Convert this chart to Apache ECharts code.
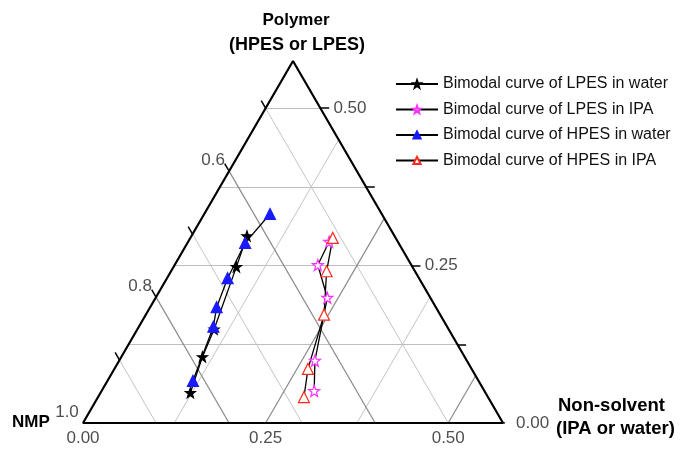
<!DOCTYPE html>
<html>
<head>
<meta charset="utf-8">
<script src="https://cdn.jsdelivr.net/npm/echarts@6/dist/echarts.min.js"></script>
<style>
	html, body { margin: 0; padding: 0; background: #fff; }
	#chart { width: 681px; height: 449px; }
</style>
</head>
<body>
<div id="chart"></div>
<script>
// ternary data: non-solvent and polymer fractions, NMP = 1 - both
var lpesWaterNonSolvent = [0.123, 0.111, 0.105, 0.086, 0.076];
var lpesWaterPolymer = [0.048, 0.105, 0.149, 0.248, 0.297];
var lpesIpaNonSolvent = [0.193, 0.196, 0.235, 0.268, 0.291];
var lpesIpaPolymer = [0.288, 0.251, 0.199, 0.099, 0.051];
var hpesWaterNonSolvent = [0.090, 0.079, 0.083, 0.091, 0.102, 0.117];
var hpesWaterPolymer = [0.332, 0.286, 0.230, 0.184, 0.153, 0.067];
var hpesIpaNonSolvent = [0.195, 0.213, 0.244, 0.265, 0.282];
var hpesIpaPolymer = [0.294, 0.241, 0.172, 0.086, 0.041];

var seriesNames = ['Bimodal curve of LPES in water', 'Bimodal curve of LPES in IPA',
	'Bimodal curve of HPES in water', 'Bimodal curve of HPES in IPA'];

// axis ticks
var bottomTicks = [0, 0.125, 0.25, 0.375, 0.5];
var bottomLabelTicks = [0, 0.25, 0.5];
var bottomLabels = ['0.00', '0.25', '0.50'];
var rightTicks = [0, 0.125, 0.25, 0.375, 0.5];
var rightLabelTicks = [0, 0.25, 0.5];
var rightLabels = ['0.00', '0.25', '0.50'];
var leftTicks = [0.5, 0.6, 0.7, 0.8, 0.9];
var leftLabelTicks = [1.0, 0.8, 0.6];
var leftLabels = ['1.0', '0.8', '0.6'];

var polymerGrid = [0.125, 0.25, 0.375, 0.5];
var nonSolventGrid = [0.125, 0.25, 0.375, 0.5];
var nmpGrid = [0.5, 0.6, 0.7, 0.8, 0.9];
var nonSolventMajor = [0.25, 0.5];
var nmpMajor = [0.6, 0.8];

var R = 0.575;   // range shown on each side of the zoomed triangle
var H = Math.sqrt(3) / 2;
var TICK = 0.012;
var STAR = 'path://M0,-10L2.35,-3.24L9.51,-3.09L3.8,1.24L5.88,8.09L0,4L-5.88,8.09L-3.8,1.24L-9.51,-3.09L-2.35,-3.24Z';

function pt(ns, p)
{
	return [ns + p / 2, p * H];
}

function curve(nsArr, pArr)
{
	var d = [];
	for (var i = 0; i < nsArr.length; i++)
		d.push(pt(nsArr[i], pArr[i]));
	return d;
}

var lightLines = [], darkLines = [], hLines = [], tickLines = [];

polymerGrid.forEach(function(p)
{
	hLines.push({ coords: [pt(0, p), pt(R - p, p)] });
});
nonSolventGrid.forEach(function(c)
{
	var seg = { coords: [pt(c, 0), pt(c, R - c)] };
	(nonSolventMajor.indexOf(c) >= 0 ? darkLines : lightLines).push(seg);
});
nmpGrid.forEach(function(n)
{
	var seg = { coords: [pt(0, 1 - n), pt(1 - n, 0)] };
	(nmpMajor.indexOf(n) >= 0 ? darkLines : lightLines).push(seg);
});

bottomTicks.forEach(function(c)
{
	tickLines.push({ coords: [pt(c, 0), pt(c + TICK, -TICK)] });
});
rightTicks.forEach(function(p)
{
	tickLines.push({ coords: [pt(R - p, p), pt(R - p + TICK, p)] });
});
leftTicks.forEach(function(n)
{
	tickLines.push({ coords: [pt(0, 1 - n), pt(-TICK, 1 - n + TICK)] });
});

function labelData(ticks, labels, fn)
{
	return ticks.map(function(t, i) { return { value: fn(t), name: labels[i] }; });
}

var labelStyle = { show: true, formatter: '{b}', fontFamily: 'Liberation Sans, Arial', fontSize: 17, color: '#222' };

function labelSeries(data, extra)
{
	return {
		type: 'scatter', symbolSize: 0, silent: true, z: 5,
		data: data,
		label: Object.assign({}, labelStyle, extra)
	};
}

function lineSeries(name, data, symbol, color, fill, size)
{
	return {
		name: name, type: 'line', data: data, z: 10,
		symbol: symbol, symbolSize: size,
		lineStyle: { color: '#000', width: 1.3 },
		itemStyle: { color: fill, borderColor: color, borderWidth: 1.2 },
		emphasis: { disabled: true }
	};
}

function title(text, x, y, align, size)
{
	return { type: 'text', style: { text: text, x: x, y: y, align: align, verticalAlign: 'middle', font: 'bold ' + size + 'px "Liberation Sans", Arial', fill: '#000' } };
}

var chart = echarts.init(document.getElementById('chart'));

var option =
{
	animation: false,
	backgroundColor: '#fff',
	grid: { left: 83, top: 61, width: 420, height: 362 },
	xAxis: { type: 'value', min: 0, max: R, show: false },
	yAxis: { type: 'value', min: 0, max: R * H, show: false },
	legend:
	{
		orient: 'vertical', left: 390, top: 71,
		itemWidth: 42, itemHeight: 9, itemGap: 9.5,
		data: seriesNames,
		textStyle: { fontFamily: 'Liberation Sans, Arial', fontSize: 16, color: '#111' }
	},
	graphic:
	[
		title('Polymer', 296, 20, 'center', 17),
		title('(HPES or LPES)', 297, 45, 'center', 18),
		title('NMP', 12, 422, 'left', 17),
		title('Non-solvent', 558, 406, 'left', 18.5),
		title('(IPA or water)', 556, 429, 'left', 18.5)
	],
	series:
	[
		{ type: 'lines', coordinateSystem: 'cartesian2d', silent: true, z: 1, data: hLines, lineStyle: { color: '#bdbdbd', width: 1, opacity: 1 } },
		{ type: 'lines', coordinateSystem: 'cartesian2d', silent: true, z: 1, data: lightLines, lineStyle: { color: '#c4c4c4', width: 1, opacity: 1 } },
		{ type: 'lines', coordinateSystem: 'cartesian2d', silent: true, z: 2, data: darkLines, lineStyle: { color: '#8a8a8a', width: 1.2, opacity: 1 } },
		{ type: 'lines', coordinateSystem: 'cartesian2d', silent: true, z: 3, data: tickLines, lineStyle: { color: '#000', width: 1.5, opacity: 1 } },
		{
			type: 'line', silent: true, z: 4, symbol: 'none',
			data: [pt(0, 0), pt(R, 0), pt(0, R), pt(0, 0)],
			lineStyle: { color: '#000', width: 2.2 }
		},
		labelSeries(labelData(bottomLabelTicks, bottomLabels, function(c) { return pt(c, 0); }), { position: 'bottom', distance: 7 }),
		labelSeries(labelData(rightLabelTicks, rightLabels, function(p) { return pt(R - p, p); }), { position: 'right', distance: 13 }),
		labelSeries(labelData(leftLabelTicks, leftLabels, function(n) { return pt(0, 1 - n); }), { position: 'inside', offset: [-16, -11] }),
		lineSeries(seriesNames[0], curve(lpesWaterNonSolvent, lpesWaterPolymer), STAR, '#000', '#000', 10),
		lineSeries(seriesNames[1], curve(lpesIpaNonSolvent, lpesIpaPolymer), STAR, '#ff33ff', '#fff', 11),
		lineSeries(seriesNames[2], curve(hpesWaterNonSolvent, hpesWaterPolymer), 'triangle', '#1a1aff', '#1a1aff', 11),
		lineSeries(seriesNames[3], curve(hpesIpaNonSolvent, hpesIpaPolymer), 'triangle', '#ff2a1a', '#fff', 11)
	]
};

chart.setOption(option);
</script>
</body>
</html>
